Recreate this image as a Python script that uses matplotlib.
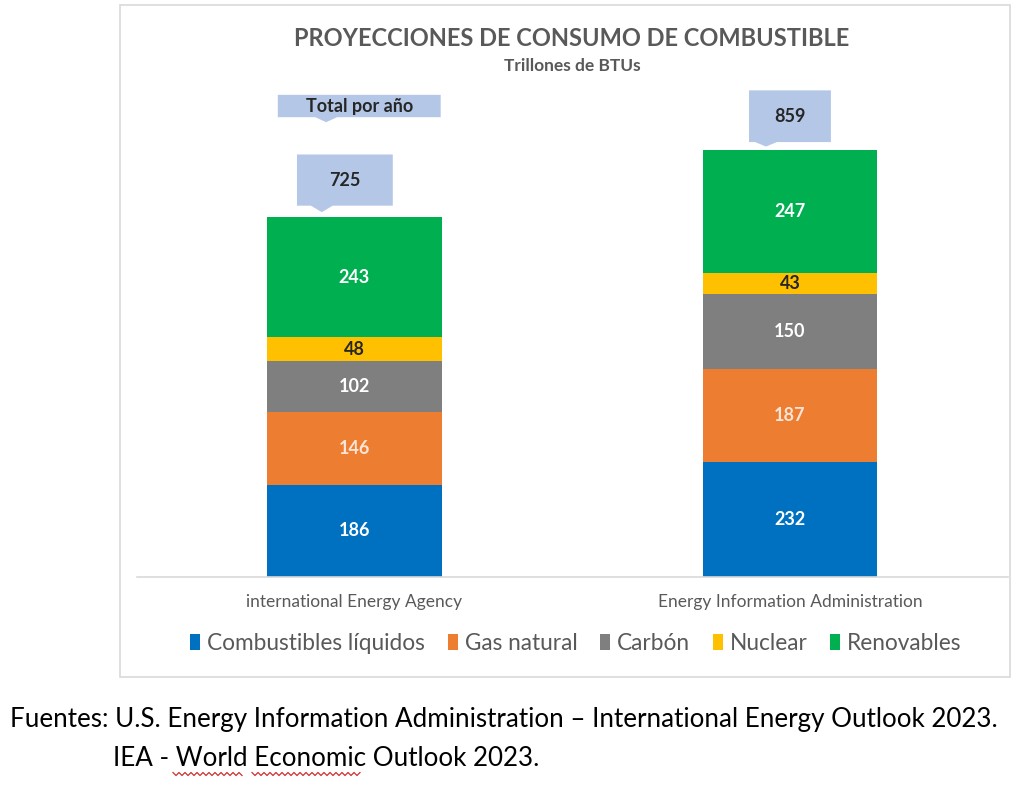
import matplotlib
matplotlib.use("Agg")
import matplotlib.pyplot as plt
from matplotlib.patches import Rectangle, Polygon, Patch
from matplotlib.lines import Line2D
import numpy as np

plt.rcParams['font.family'] = ['Lato', 'DejaVu Sans']

# %% Data
agencies = ['international Energy Agency', 'Energy Information Administration']
fuels = ['Combustibles líquidos', 'Gas natural', 'Carbón', 'Nuclear', 'Renovables']
liquidos = [186, 232]
gas = [146, 187]
carbon = [102, 150]
nuclear = [48, 43]
renovables = [243, 247]
totals = [725, 859]

colors = ['#0070C0', '#ED7D31', '#7F7F7F', '#FFC000', '#00B050']
label_colors = ['white', '#FCE4D6', 'white', '#262626', 'white']
callout_color = '#B4C7E7'
grey_txt = '#595959'

# %% Figure
fig = plt.figure(figsize=(10.24, 7.89), dpi=100)
fig.patches.append(Rectangle((120 / 1024, 1 - 677 / 789), 890 / 1024, 672 / 789,
                             transform=fig.transFigure, fill=False,
                             edgecolor='#d9d9d9', linewidth=1.2))

ax = fig.add_axes([0.1335, 0.2687, 0.8506, 0.630])
x = np.arange(len(agencies))
width = 0.40
bottom = np.zeros(len(agencies))
series = [liquidos, gas, carbon, nuclear, renovables]
for vals, col, lc in zip(series, colors, label_colors):
    ax.bar(x, vals, width, bottom=bottom, color=col, zorder=2)
    for xi, b, v in zip(x, bottom, vals):
        ax.text(xi, b + v / 2, str(v), ha='center', va='center',
                color=lc, fontsize=13, fontweight='bold')
    bottom += np.array(vals)

ax.set_xlim(-0.5, 1.5)
ax.set_ylim(0, 1000)
ax.set_yticks([])
ax.set_xticks(x)
ax.set_xticklabels(agencies, fontsize=12.5, color=grey_txt)
ax.tick_params(axis='x', length=0, pad=12)
for s in ['top', 'right', 'left']:
    ax.spines[s].set_visible(False)
ax.spines['bottom'].set_color('#d9d9d9')
ax.spines['bottom'].set_linewidth(1.2)


def callout(ax, cx, half, y0, h, tipx, tipy, text):
    pts = [(cx - half, y0), (cx - half, y0 + h), (cx + half, y0 + h), (cx + half, y0),
           (tipx + 0.025, y0), (tipx, tipy), (tipx - 0.025, y0)]
    ax.add_patch(Polygon(pts, closed=True, facecolor=callout_color,
                         edgecolor='none', clip_on=False, zorder=3))
    ax.text(cx, y0 + h / 2, text, ha='center', va='center', fontsize=13,
            fontweight='bold', color='#262626', zorder=4, clip_on=False)


# total callouts above each bar
callout(ax, -0.022, 0.11, totals[0] + 22, 103, -0.075, totals[0] + 9, str(totals[0]))
callout(ax, 1.0, 0.094, totals[1] + 16, 104, 0.945, totals[1] + 7, str(totals[1]))
callout(ax, 0.011, 0.187, 925, 45, -0.065, 915, 'Total por año')

fig.text(572 / 1024, 1 - 38 / 789, 'PROYECCIONES DE CONSUMO DE COMBUSTIBLE',
         ha='center', va='center', fontsize=17, fontweight='bold', color=grey_txt)
fig.text(572 / 1024, 1 - 66 / 789, 'Trillones de BTUs', ha='center', va='center',
         fontsize=12.5, fontweight='bold', color=grey_txt)

handles = [Patch(facecolor=c, edgecolor='none') for c in colors]
fig.legend(handles, fuels, loc='center', bbox_to_anchor=(576 / 1024, 1 - 643 / 789),
           ncol=5, frameon=False, fontsize=16.3, handlelength=0.45, handleheight=0.7,
           handletextpad=0.3, columnspacing=1.0, labelcolor=grey_txt)

fig.text(10 / 1024, 1 - 720 / 789,
         'Fuentes: U.S. Energy Information Administration – International Energy Outlook 2023.',
         ha='left', va='center', fontsize=18.7, color='black')
fig.text(113 / 1024, 1 - 758 / 789, 'IEA - World Economic Outlook 2023.',
         ha='left', va='center', fontsize=18.7, color='black')

# red spell-check squiggles under "World" and "Economic"
for x0, x1 in [(173, 243), (252, 362)]:
    xs = np.arange(x0, x1 + 1, 3)
    ys = 774 + np.where(np.arange(len(xs)) % 2 == 0, -1.5, 1.5)
    fig.add_artist(Line2D(xs / 1024, 1 - ys / 789, transform=fig.transFigure,
                          color='#d03030', linewidth=0.9))

fig.savefig('out.png', dpi=100, facecolor='white')
